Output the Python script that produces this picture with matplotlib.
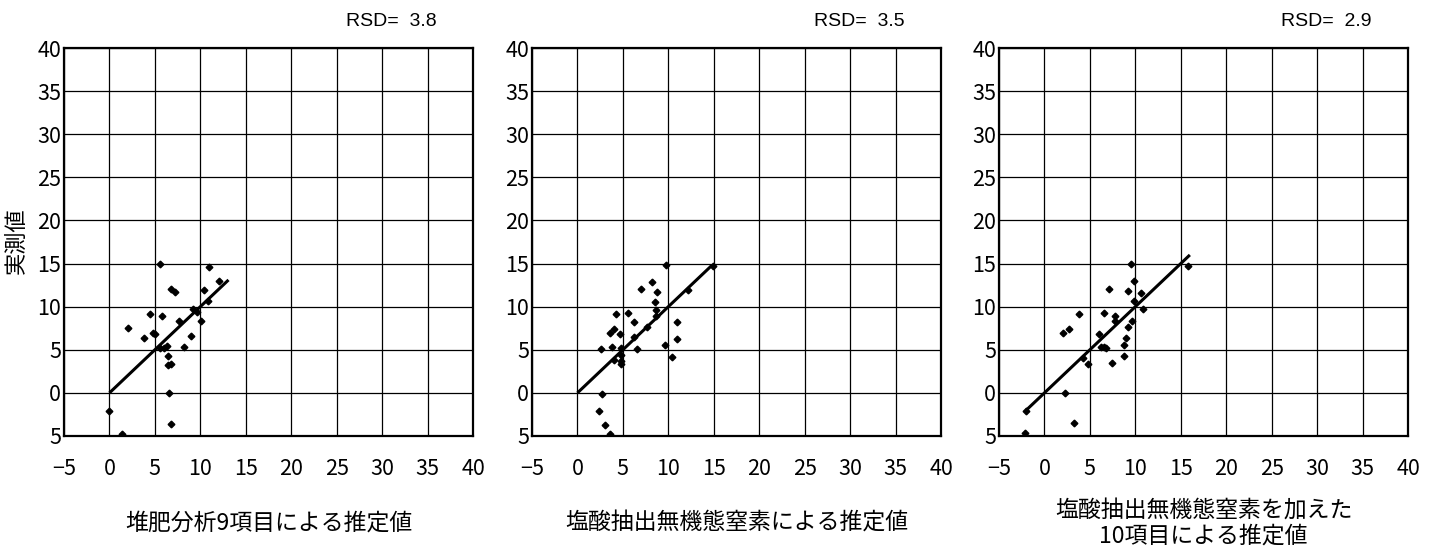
import matplotlib
matplotlib.use("Agg")
import matplotlib.pyplot as plt

plt.rcParams['font.family'] = ['Noto Sans CJK JP', 'DejaVu Sans']

# ---- data ----
p1_x = [5.6, 10.95, 12.0, 6.8, 7.2, 10.4, 10.8, 9.2, 9.6, 4.5, 5.75, 7.6, 10.1, 2.0, 4.75,
        5.0, 3.8, 9.0, 5.6, 6.0, 6.3, 8.2, 6.4, 6.4, 6.8, 6.55, 0.0, 6.8, 1.4]
p1_y = [14.9, 14.6, 13.0, 12.1, 11.7, 11.9, 10.6, 9.7, 9.4, 9.2, 8.9, 8.3, 8.3, 7.5, 7.0,
        6.8, 6.4, 6.6, 5.2, 5.25, 5.45, 5.3, 4.3, 3.2, 3.4, 0.0, -2.1, -3.6, -4.8]
p1_line = [0.0, 13.1]

p2_x = [9.7, 14.9, 8.15, 6.96, 8.8, 12.2, 8.55, 8.6, 4.2, 5.6, 8.6, 6.2, 11.0, 7.7, 4.0,
        3.6, 4.7, 6.25, 11.0, 2.55, 3.75, 4.8, 6.55, 9.6, 10.4, 4.8, 4.0, 4.75, 4.75,
        2.7, 2.35, 3.0, 3.6]
p2_y = [14.8, 14.7, 12.9, 12.1, 11.7, 11.9, 10.5, 9.6, 9.1, 9.3, 8.9, 8.25, 8.25, 7.6, 7.4,
        7.0, 6.8, 6.5, 6.3, 5.05, 5.3, 5.25, 5.05, 5.5, 4.2, 4.4, 3.8, 3.7, 3.3,
        -0.1, -2.1, -3.7, -4.8]
p2_line = [0.0, 14.8]

p3_x = [9.55, 15.75, 9.9, 7.15, 9.15, 10.6, 9.9, 10.8, 3.8, 6.6, 7.8, 7.8, 9.6, 9.15, 2.65,
        2.0, 6.0, 8.95, 8.75, 6.2, 6.5, 6.8, 8.75, 4.2, 4.8, 7.4, 2.3, 3.2, -2.0, -2.1]
p3_y = [14.9, 14.7, 12.95, 12.1, 11.8, 11.6, 10.6, 9.7, 9.1, 9.3, 8.9, 8.3, 8.3, 7.6, 7.45,
        7.0, 6.8, 6.4, 5.55, 5.3, 5.3, 5.2, 4.3, 4.0, 3.3, 3.5, 0.0, -3.5, -2.1, -4.7]
p3_line = [-2.0, 16.0]

rsd_labels = ["RSD=  3.8", "RSD=  3.5", "RSD=  2.9"]
x_titles = ["堆肥分析9項目による推定値",
            "塩酸抽出無機態窒素による推定値",
            "塩酸抽出無機態窒素を加えた\n10項目による推定値"]
y_title = "実測値"
ticks = [-5, 0, 5, 10, 15, 20, 25, 30, 35, 40]
x_tick_labels = ["\u22125", "0", "5", "10", "15", "20", "25", "30", "35", "40"]
y_tick_labels = ["5", "0", "5", "10", "15", "20", "25", "30", "35", "40"]

panels = [(p1_x, p1_y, p1_line), (p2_x, p2_y, p2_line), (p3_x, p3_y, p3_line)]

W, H = 1435, 551
fig = plt.figure(figsize=(W / 100, H / 100), dpi=100)
lefts = [64, 532, 999]
aw, top, bot = 409, 48, 436

for i, (xs, ys, ln) in enumerate(panels):
    ax = fig.add_axes([lefts[i] / W, 1 - bot / H, aw / W, (bot - top) / H])
    ax.set_xlim(-5, 40)
    ax.set_ylim(-5, 40)
    ax.set_xticks(ticks)
    ax.set_yticks(ticks)
    ax.set_xticklabels(x_tick_labels)
    ax.set_yticklabels(y_tick_labels)
    ax.tick_params(axis='both', length=0, labelsize=15.5)
    ax.tick_params(axis='x', pad=16)
    ax.tick_params(axis='y', pad=2)
    ax.grid(True, color='black', linewidth=0.9)
    ax.set_axisbelow(True)
    for s in ax.spines.values():
        s.set_linewidth(1.6)
        s.set_color('black')
    ax.plot(ln, ln, color='black', linewidth=2.2, solid_capstyle='butt', zorder=3)
    ax.plot(xs, ys, linestyle='none', marker='D', markersize=3.4, color='black', zorder=4)
    cx = (lefts[i] + aw / 2) / W
    fig.text((lefts[i] + aw - 82) / W, 1 - 21 / H, rsd_labels[i], fontsize=14,
             family=['Liberation Sans', 'DejaVu Sans'], ha='center', va='center')
    fig.text(cx, 1 - 523 / H, x_titles[i], fontsize=16.5, ha='center', va='center',
             linespacing=1.2)

fig.text(16 / W, 1 - 241 / H, y_title, fontsize=16, rotation=90, ha='center', va='center')

fig.savefig("out.png", dpi=100, facecolor='white')
